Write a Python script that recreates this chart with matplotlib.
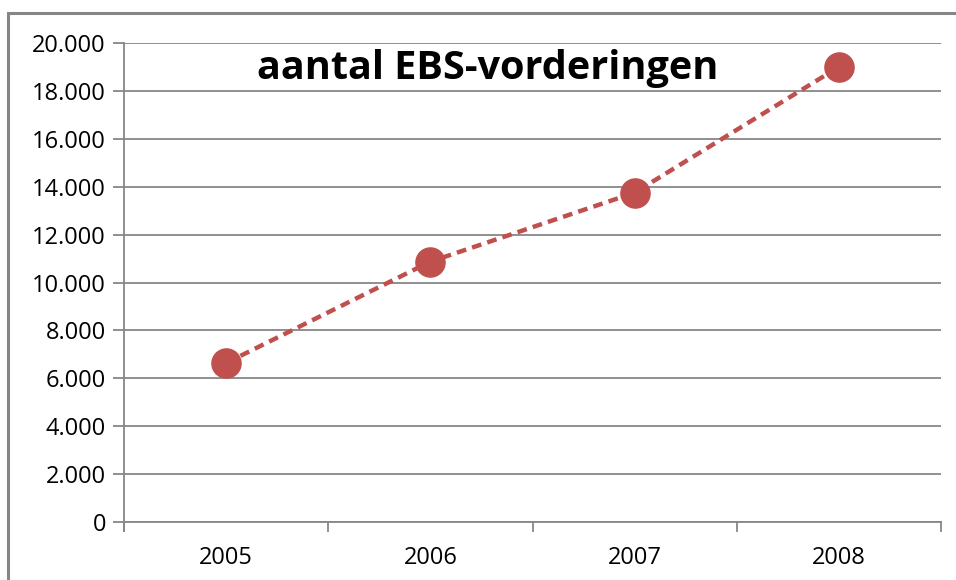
import matplotlib
matplotlib.use("Agg")
import matplotlib.pyplot as plt
from matplotlib.patches import Rectangle
from matplotlib.ticker import FuncFormatter, FixedLocator

years = ["2005", "2006", "2007", "2008"]
values = [6640, 10870, 13750, 19000]
yticks = [0, 2000, 4000, 6000, 8000, 10000, 12000, 14000, 16000, 18000, 20000]
title = "aantal EBS-vorderingen"

W, H = 956, 580
fig = plt.figure(figsize=(W / 100, H / 100), dpi=100)
plt.rcParams['font.family'] = ['Open Sans', 'DejaVu Sans']

# outer chart border
fig.patches.append(Rectangle((8 / W, -0.05), 1.1, (H - 13) / H + 0.05, transform=fig.transFigure,
                             fill=False, edgecolor="#868686", linewidth=2.2))

ax = fig.add_axes([124 / W, 1 - 522 / H, (941 - 124) / W, (522 - 43) / H])
x = list(range(len(years)))
ax.plot(x, values, color="#C0504D", linestyle=(0, (2.2, 1.4)), linewidth=3.2,
        marker="o", markersize=21, markerfacecolor="#C0504D", markeredgecolor="#C0504D", zorder=3)

ax.set_xlim(-0.5, len(years) - 0.5)
ax.set_ylim(0, 20000)
ax.yaxis.set_major_locator(FixedLocator(yticks))
ax.yaxis.set_major_formatter(FuncFormatter(lambda v, p: "0" if v == 0 else f"{int(v):,}".replace(",", ".")))
ax.grid(axis="y", color="#878787", linewidth=1.3)
ax.set_axisbelow(True)

ax.set_xticks(x)
ax.set_xticklabels(years)
ax.tick_params(axis="x", length=0, labelsize=17, pad=17, colors="#000000")
ax.tick_params(axis="y", length=8, width=1.3, color="#878787", labelsize=17, pad=5)
for b in [-0.5, 0.5, 1.5, 2.5, 3.5]:
    ax.plot([b, b], [0, -0.018], transform=ax.get_xaxis_transform(), color="#878787",
            linewidth=1.3, clip_on=False)

for s in ["top", "right"]:
    ax.spines[s].set_visible(False)
ax.spines["left"].set_color("#878787")
ax.spines["bottom"].set_color("#878787")
ax.spines["left"].set_linewidth(1.3)
ax.spines["bottom"].set_linewidth(1.3)
ax.spines["left"].set_bounds(-380, 20000)

fig.text(488 / W, 1 - 68 / H, title, ha="center", va="center", fontsize=28.5, fontweight="bold")

fig.savefig("out.png", dpi=100)
